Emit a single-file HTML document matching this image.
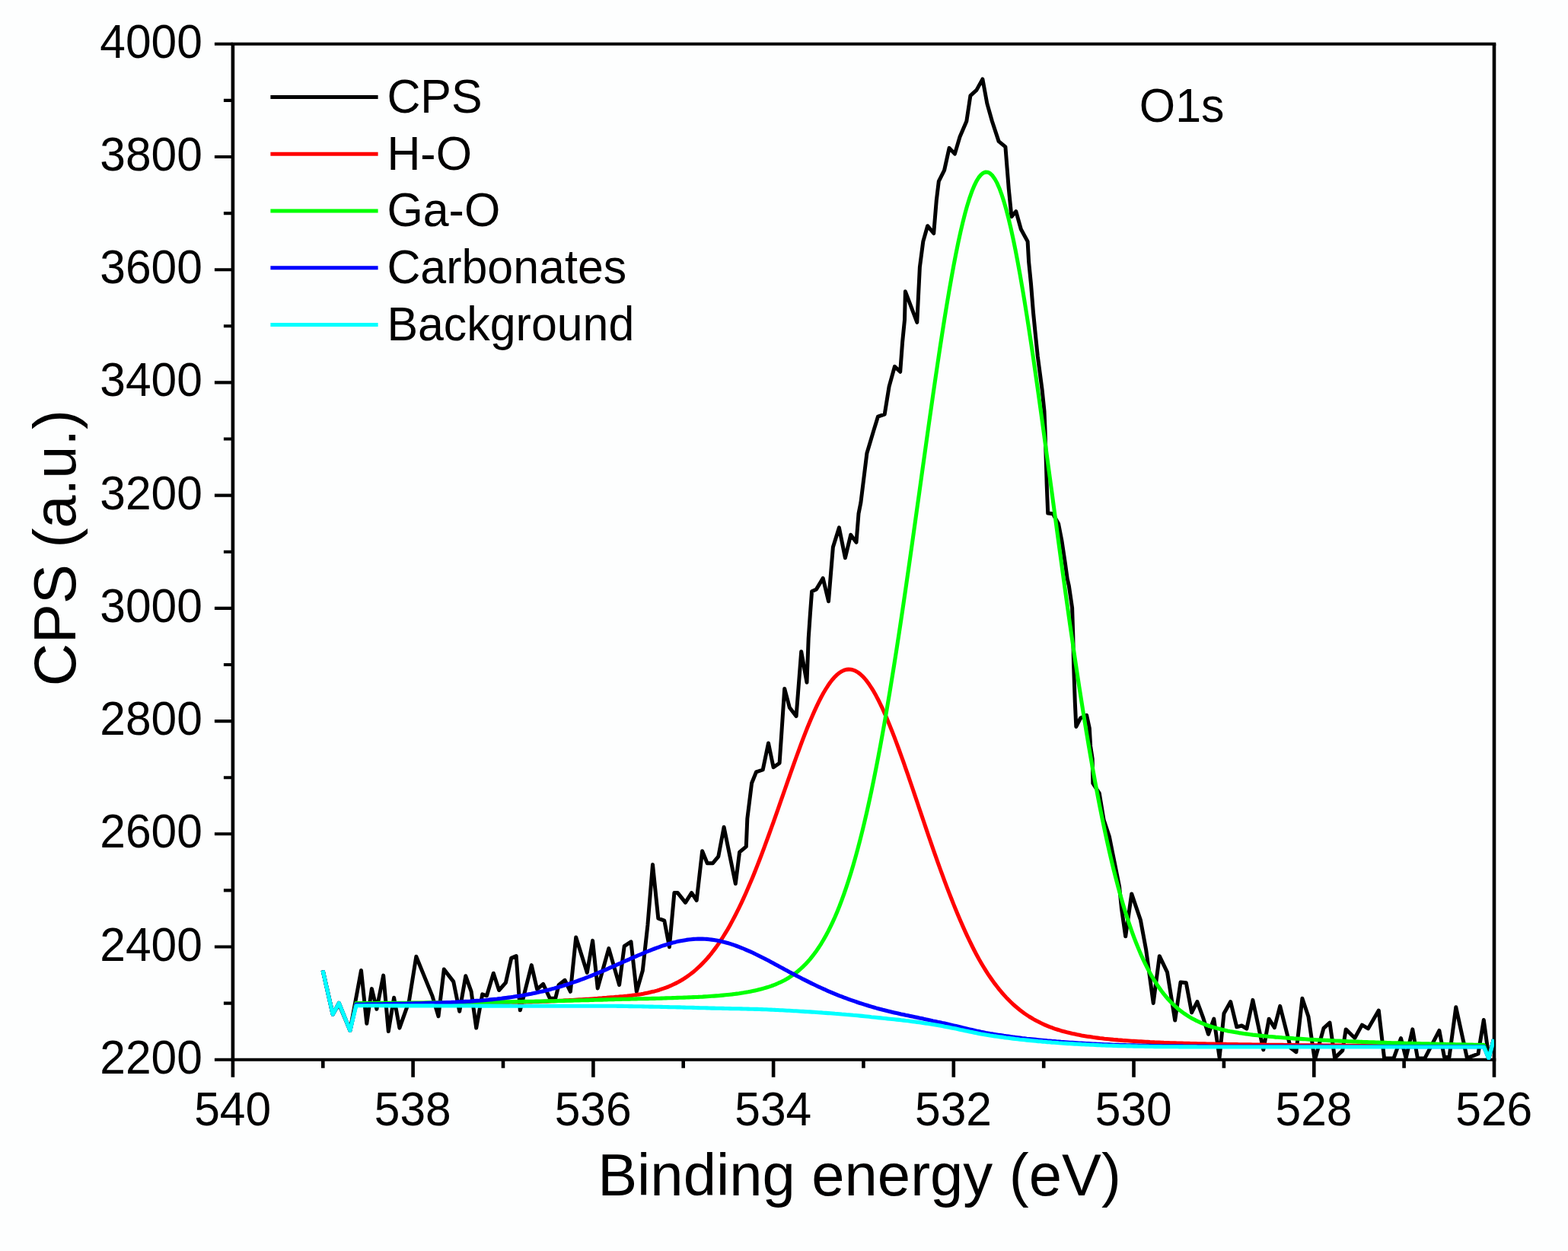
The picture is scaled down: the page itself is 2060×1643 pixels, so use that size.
<!DOCTYPE html>
<html lang="en">
<head>
<meta charset="utf-8">
<title>O1s XPS spectrum</title>
<style>
html,body{margin:0;padding:0;background:#fdfefe;}
body{width:2060px;height:1643px;overflow:hidden;}
svg{display:block;}
text{font-family:"Liberation Sans",Arial,Helvetica,sans-serif;fill:#000;}
.tick{font-size:61.2px;}
.title{font-size:77.8px;}
.ln{fill:none;stroke-linejoin:round;stroke-linecap:butt;}
</style>
</head>
<body>
<svg width="2060" height="1643" viewBox="0 0 2060 1643">
<rect x="0" y="0" width="2060" height="1643" fill="#fdfefe"/>
<defs><clipPath id="plot"><rect x="305.9" y="57.8" width="1657.1" height="1333.9"/></clipPath></defs>
<path d="M303.6 57.8H1965.3M303.6 1391.7H1965.3" fill="none" stroke="#000" stroke-width="4.1"/>
<path d="M305.9 57.8V1414.7M1963.0 57.8V1414.7" fill="none" stroke="#000" stroke-width="4.6"/>
<path d="M424.3 1391.7V1402.7M542.6 1391.7V1414.7M661.0 1391.7V1402.7M779.4 1391.7V1414.7M897.7 1391.7V1402.7M1016.1 1391.7V1414.7M1134.4 1391.7V1402.7M1252.8 1391.7V1414.7M1371.2 1391.7V1402.7M1489.5 1391.7V1414.7M1607.9 1391.7V1402.7M1726.3 1391.7V1414.7M1844.6 1391.7V1402.7" fill="none" stroke="#000" stroke-width="4.6"/>
<path d="M305.9 1391.7H281.9M305.9 1317.6H293.9M305.9 1243.5H281.9M305.9 1169.4H293.9M305.9 1095.3H281.9M305.9 1021.2H293.9M305.9 947.1H281.9M305.9 873.0H293.9M305.9 798.9H281.9M305.9 724.8H293.9M305.9 650.6H281.9M305.9 576.5H293.9M305.9 502.4H281.9M305.9 428.3H293.9M305.9 354.2H281.9M305.9 280.1H293.9M305.9 206.0H281.9M305.9 131.9H293.9M305.9 57.8H281.9" fill="none" stroke="#000" stroke-width="4.1"/>
<g clip-path="url(#plot)">
<polyline class="ln" stroke="#000" stroke-width="5.0" points="424.1,1274.5 437.2,1331.9 445.3,1318.9 459.9,1353.1 474.5,1274.5 481.8,1344.3 488.4,1298.6 494.9,1325.3 503.7,1281.1 510.3,1354.5 517.6,1310.3 524.9,1350.1 537.3,1315.4 546.8,1256.3 568.0,1308.1 576.0,1334.8 583.3,1273.1 595.7,1289.1 603.7,1328.2 611.8,1281.8 619.1,1302.2 625.7,1350.1 633.7,1305.9 639.5,1307.8 648.3,1278.2 655.6,1300.5 664.4,1290.6 671.7,1258.4 678.2,1255.5 683.3,1326.8 698.3,1267.6 705.6,1299.3 713.6,1292.4 722.4,1311.3 729.7,1311.3 734.0,1293.8 742.1,1287.3 749.4,1302.3 756.7,1231.0 771.3,1277.4 778.6,1235.4 785.2,1297.9 799.8,1245.6 813.6,1293.5 820.2,1242.7 829.0,1236.9 836.3,1302.3 844.3,1274.8 850.9,1214.9 857.5,1135.4 864.8,1206.2 872.8,1209.1 879.4,1243.8 885.9,1172.6 890.3,1172.6 900.5,1185.4 908.6,1172.6 915.2,1182.5 922.6,1117.7 929.2,1133.7 936.5,1133.7 943.8,1124.9 951.1,1086.3 966.3,1160.6 971.6,1119.1 980.3,1111.8 981.8,1075.3 987.6,1028.5 993.5,1013.9 1002.2,1011.0 1009.5,976.0 1016.1,1007.8 1024.1,1002.2 1027.1,958.4 1030.7,904.4 1037.3,929.2 1046.1,940.6 1052.7,855.8 1060.0,896.3 1062.2,838.2 1064.4,806.1 1066.6,776.8 1072.5,773.9 1081.2,759.4 1088.5,789.7 1094.4,718.4 1102.4,692.9 1110.4,732.7 1117.7,702.4 1125.0,712.3 1128.0,674.6 1130.9,660.0 1138.9,595.3 1147.6,566.1 1153.5,547.1 1162.2,544.1 1168.1,507.6 1175.4,481.4 1182.7,488.3 1185.6,449.2 1188.5,420.0 1189.4,382.8 1204.8,423.4 1208.4,350.7 1212.8,317.1 1218.6,296.7 1226.7,306.5 1230.3,263.0 1233.3,238.2 1240.6,223.6 1247.1,194.4 1254.4,202.1 1261.0,179.8 1269.8,159.3 1274.9,125.7 1282.9,118.4 1290.9,103.9 1296.8,135.9 1303.4,159.3 1312.1,185.6 1320.9,192.9 1323.1,220.7 1325.3,248.4 1328.9,284.6 1334.8,277.7 1341.3,301.0 1350.1,317.1 1351.6,343.8 1354.5,373.0 1357.4,409.5 1360.3,438.8 1363.3,468.0 1366.2,489.9 1369.1,511.8 1372.0,540.0 1373.0,563.8 1373.9,593.0 1375.2,636.8 1376.7,674.1 1383.3,674.8 1390.6,688.0 1394.9,709.9 1399.3,739.1 1402.2,760.0 1404.3,769.2 1408.6,798.4 1409.8,834.9 1410.5,871.5 1412.3,922.6 1413.8,954.4 1419.6,943.0 1427.6,939.4 1431.3,956.2 1432.7,980.0 1435.2,996.5 1435.8,1028.6 1444.3,1041.8 1450.1,1076.8 1457.4,1098.8 1461.8,1120.7 1466.2,1142.6 1470.6,1164.5 1473.5,1193.7 1478.7,1229.8 1486.7,1173.9 1498.4,1208.2 1505.7,1247.6 1515.2,1317.4 1523.3,1255.7 1533.5,1276.8 1543.7,1340.1 1551.0,1290.0 1558.3,1290.8 1565.6,1329.9 1572.9,1315.6 1580.2,1335.3 1587.5,1358.3 1594.8,1338.2 1602.1,1389.0 1608.0,1330.9 1616.7,1315.6 1624.8,1348.8 1631.3,1347.0 1637.9,1351.0 1645.9,1313.4 1659.8,1378.8 1667.1,1338.2 1674.4,1349.6 1681.7,1321.4 1695.6,1376.2 1702.9,1381.7 1710.9,1311.2 1719.0,1335.3 1727.3,1392.5 1739.0,1350.4 1747.0,1343.2 1753.6,1389.6 1763.8,1379.6 1768.2,1351.9 1779.9,1363.3 1789.4,1346.1 1797.4,1350.9 1811.3,1327.1 1818.6,1389.9 1831.0,1389.9 1840.5,1363.6 1847.1,1389.6 1855.8,1351.9 1862.4,1389.9 1871.9,1389.9 1890.9,1353.4 1897.5,1388.4 1904.0,1388.4 1912.8,1322.7 1927.4,1389.6 1942.0,1384.0 1949.3,1339.5 1955.9,1388.1 1962.5,1365.0"/>
<polyline class="ln" stroke="#ff0000" stroke-width="5.1" points="424.1,1274.5 437.2,1332.2 445.3,1317.4 459.9,1353.4 467.9,1317.8 469.9,1317.8 472.9,1317.8 475.9,1317.7 478.9,1317.7 481.9,1317.7 484.9,1317.7 487.9,1317.7 490.9,1317.7 493.9,1317.7 496.9,1317.7 499.9,1317.6 502.9,1317.6 505.9,1317.6 508.9,1317.6 511.9,1317.6 514.9,1317.6 517.9,1317.6 520.9,1317.5 523.9,1317.5 526.9,1317.5 529.9,1317.5 532.9,1317.5 535.9,1317.5 538.9,1317.4 541.9,1317.4 544.9,1317.4 547.9,1317.4 550.9,1317.4 553.9,1317.4 556.9,1317.3 559.9,1317.3 562.9,1317.3 565.9,1317.3 568.9,1317.3 571.9,1317.2 574.9,1317.2 577.9,1317.2 580.9,1317.2 583.9,1317.2 586.9,1317.1 589.9,1317.1 592.9,1317.1 595.9,1317.1 598.9,1317.0 601.9,1317.0 604.9,1317.0 607.9,1317.0 610.9,1316.9 613.9,1316.9 616.9,1316.9 619.9,1316.9 622.9,1316.8 625.9,1316.8 628.9,1316.8 631.9,1316.8 634.9,1316.7 637.9,1316.7 640.9,1316.7 643.9,1316.6 646.9,1316.6 649.9,1316.6 652.9,1316.5 655.9,1316.5 658.9,1316.5 661.9,1316.4 664.9,1316.4 667.9,1316.4 670.9,1316.3 673.9,1316.3 676.9,1316.2 679.9,1316.2 682.9,1316.2 685.9,1316.1 688.9,1316.1 691.9,1316.0 694.9,1316.0 697.9,1315.9 700.9,1315.8 703.9,1315.7 706.9,1315.6 709.9,1315.5 712.9,1315.3 715.9,1315.2 718.9,1315.1 721.9,1314.9 724.9,1314.8 727.9,1314.7 730.9,1314.5 733.9,1314.4 736.9,1314.2 739.9,1314.1 742.9,1313.9 745.9,1313.8 748.9,1313.6 751.9,1313.5 754.9,1313.3 757.9,1313.1 760.9,1312.9 763.9,1312.8 766.9,1312.6 769.9,1312.4 772.9,1312.2 775.9,1312.0 778.9,1311.8 781.9,1311.6 784.9,1311.4 787.9,1311.1 790.9,1310.9 793.9,1310.6 796.9,1310.4 799.9,1310.1 802.9,1309.9 805.9,1309.7 808.9,1309.4 811.9,1309.2 814.9,1308.9 817.9,1308.7 820.9,1308.4 823.9,1308.1 826.9,1307.7 829.9,1307.4 832.9,1307.0 835.9,1306.6 838.9,1306.1 841.9,1305.7 844.9,1305.2 847.9,1304.6 850.9,1304.0 853.9,1303.3 856.9,1302.6 859.9,1301.9 862.9,1301.1 865.9,1300.2 868.9,1299.2 871.9,1298.2 874.9,1297.1 877.9,1296.0 880.9,1294.7 883.9,1293.3 886.9,1291.9 889.9,1290.4 892.9,1288.7 895.9,1287.0 898.9,1285.1 901.9,1283.1 904.9,1281.0 907.9,1278.8 910.9,1276.4 913.9,1273.9 916.9,1271.2 919.9,1268.4 922.9,1265.4 925.9,1262.3 928.9,1259.0 931.9,1255.5 934.9,1251.8 937.9,1247.9 940.9,1243.9 943.9,1239.6 946.9,1235.2 949.9,1230.5 952.9,1225.7 955.9,1220.7 958.9,1215.4 961.9,1209.9 964.9,1204.3 967.9,1198.4 970.9,1192.4 973.9,1186.1 976.9,1179.6 979.9,1173.0 982.9,1166.1 985.9,1159.1 988.9,1151.9 991.9,1144.5 994.9,1136.9 997.9,1129.2 1000.9,1121.3 1003.9,1113.4 1006.9,1105.2 1009.9,1097.0 1012.9,1088.7 1015.9,1080.3 1018.9,1071.8 1021.9,1063.3 1024.9,1054.7 1027.9,1046.1 1030.9,1037.5 1033.9,1028.9 1036.9,1020.3 1039.9,1011.8 1042.9,1003.4 1045.9,995.0 1048.9,986.8 1051.9,978.7 1054.9,970.7 1057.9,962.9 1060.9,955.3 1063.9,948.0 1066.9,940.9 1069.9,934.1 1072.9,927.6 1075.9,921.4 1078.9,915.5 1081.9,910.0 1084.9,905.0 1087.9,900.3 1090.9,896.0 1093.9,892.2 1096.9,888.8 1099.9,885.9 1102.9,883.6 1105.9,881.7 1108.9,880.3 1111.9,879.4 1114.9,879.1 1117.9,879.3 1120.9,880.0 1123.9,881.2 1126.9,882.9 1129.9,885.1 1132.9,887.8 1135.9,891.0 1138.9,894.7 1141.9,898.8 1144.9,903.3 1147.9,908.2 1150.9,913.6 1153.9,919.3 1156.9,925.3 1159.9,931.7 1162.9,938.4 1165.9,945.4 1168.9,952.7 1171.9,960.2 1174.9,967.9 1177.9,975.9 1180.9,984.0 1183.9,992.3 1186.9,1000.7 1189.9,1009.3 1192.9,1017.9 1195.9,1026.7 1198.9,1035.5 1201.9,1044.4 1204.9,1053.3 1207.9,1062.2 1210.9,1071.1 1213.9,1080.0 1216.9,1088.9 1219.9,1097.7 1222.9,1106.4 1225.9,1115.1 1228.9,1123.7 1231.9,1132.1 1234.9,1140.5 1237.9,1148.7 1240.9,1156.8 1243.9,1164.8 1246.9,1172.6 1249.9,1180.3 1252.9,1187.9 1255.9,1195.3 1258.9,1202.5 1261.9,1209.6 1264.9,1216.4 1267.9,1223.1 1270.9,1229.6 1273.9,1235.9 1276.9,1242.0 1279.9,1248.0 1282.9,1253.7 1285.9,1259.2 1288.9,1264.4 1291.9,1269.5 1294.9,1274.4 1297.9,1279.1 1300.9,1283.5 1303.9,1287.8 1306.9,1291.9 1309.9,1295.8 1312.9,1299.6 1315.9,1303.2 1318.9,1306.6 1321.9,1309.9 1324.9,1313.0 1327.9,1316.0 1330.9,1318.8 1333.9,1321.5 1336.9,1324.0 1339.9,1326.5 1342.9,1328.8 1345.9,1331.0 1348.9,1333.0 1351.9,1335.0 1354.9,1336.8 1357.9,1338.6 1360.9,1340.3 1363.9,1341.8 1366.9,1343.3 1369.9,1344.7 1372.9,1346.1 1375.9,1347.4 1378.9,1348.6 1381.9,1349.7 1384.9,1350.8 1387.9,1351.8 1390.9,1352.7 1393.9,1353.7 1396.9,1354.5 1399.9,1355.3 1402.9,1356.1 1405.9,1356.8 1408.9,1357.5 1411.9,1358.1 1414.9,1358.8 1417.9,1359.3 1420.9,1359.9 1423.9,1360.4 1426.9,1360.9 1429.9,1361.4 1432.9,1361.8 1435.9,1362.3 1438.9,1362.7 1441.9,1363.1 1444.9,1363.5 1447.9,1363.8 1450.9,1364.2 1453.9,1364.5 1456.9,1364.8 1459.9,1365.1 1462.9,1365.4 1465.9,1365.6 1468.9,1365.9 1471.9,1366.1 1474.9,1366.4 1477.9,1366.6 1480.9,1366.8 1483.9,1367.0 1486.9,1367.2 1489.9,1367.4 1492.9,1367.6 1495.9,1367.8 1498.9,1367.9 1501.9,1368.1 1504.9,1368.3 1507.9,1368.4 1510.9,1368.6 1513.9,1368.7 1516.9,1368.9 1519.9,1369.0 1522.9,1369.1 1525.9,1369.2 1528.9,1369.4 1531.9,1369.5 1534.9,1369.6 1537.9,1369.7 1540.9,1369.8 1543.9,1369.9 1546.9,1370.0 1549.9,1370.1 1552.9,1370.1 1555.9,1370.2 1558.9,1370.3 1561.9,1370.4 1564.9,1370.5 1567.9,1370.6 1570.9,1370.6 1573.9,1370.7 1576.9,1370.8 1579.9,1370.8 1582.9,1370.9 1585.9,1371.0 1588.9,1371.0 1591.9,1371.1 1594.9,1371.1 1597.9,1371.2 1600.9,1371.3 1603.9,1371.3 1606.9,1371.4 1609.9,1371.4 1612.9,1371.5 1615.9,1371.5 1618.9,1371.6 1621.9,1371.6 1624.9,1371.6 1627.9,1371.7 1630.9,1371.7 1633.9,1371.8 1636.9,1371.8 1639.9,1371.9 1642.9,1371.9 1645.9,1372.0 1648.9,1372.0 1651.9,1372.0 1654.9,1372.1 1657.9,1372.1 1660.9,1372.1 1663.9,1372.2 1666.9,1372.2 1669.9,1372.3 1672.9,1372.3 1675.9,1372.3 1678.9,1372.4 1681.9,1372.4 1684.9,1372.4 1687.9,1372.5 1690.9,1372.5 1693.9,1372.5 1696.9,1372.6 1699.9,1372.6 1702.9,1372.6 1705.9,1372.7 1708.9,1372.7 1711.9,1372.7 1714.9,1372.7 1717.9,1372.8 1720.9,1372.8 1723.9,1372.8 1726.9,1372.9 1729.9,1372.9 1732.9,1372.9 1735.9,1372.9 1738.9,1373.0 1741.9,1373.0 1744.9,1373.0 1747.9,1373.0 1750.9,1373.1 1753.9,1373.1 1756.9,1373.1 1759.9,1373.1 1762.9,1373.1 1765.9,1373.2 1768.9,1373.2 1771.9,1373.2 1774.9,1373.2 1777.9,1373.3 1780.9,1373.3 1783.9,1373.3 1786.9,1373.3 1789.9,1373.3 1792.9,1373.4 1795.9,1373.4 1798.9,1373.4 1801.9,1373.4 1804.9,1373.4 1807.9,1373.5 1810.9,1373.5 1813.9,1373.5 1816.9,1373.5 1819.9,1373.5 1822.9,1373.6 1825.9,1373.6 1828.9,1373.6 1831.9,1373.6 1834.9,1373.6 1837.9,1373.6 1840.9,1373.7 1843.9,1373.7 1846.9,1373.7 1849.9,1373.7 1852.9,1373.7 1855.9,1373.7 1858.9,1373.8 1861.9,1373.8 1864.9,1373.8 1867.9,1373.8 1870.9,1373.8 1873.9,1373.8 1876.9,1373.8 1879.9,1373.9 1882.9,1373.9 1885.9,1373.9 1888.9,1373.9 1891.9,1373.9 1894.9,1373.9 1897.9,1373.9 1900.9,1374.0 1903.9,1374.0 1906.9,1374.0 1909.9,1374.0 1912.9,1374.0 1915.9,1374.0 1918.9,1374.0 1921.9,1374.0 1924.9,1374.1 1927.9,1374.1 1930.9,1374.1 1933.9,1374.1 1936.9,1374.1 1939.9,1374.1 1942.9,1374.1 1945.9,1374.1 1949.3,1374.1 1955.9,1389.9 1962.5,1365.0"/>
<polyline class="ln" stroke="#00ff00" stroke-width="5.1" points="424.1,1274.5 437.2,1332.2 445.3,1317.4 459.9,1353.4 467.9,1317.6 469.9,1317.6 472.9,1317.6 475.9,1317.6 478.9,1317.6 481.9,1317.5 484.9,1317.5 487.9,1317.5 490.9,1317.5 493.9,1317.5 496.9,1317.4 499.9,1317.4 502.9,1317.4 505.9,1317.4 508.9,1317.4 511.9,1317.3 514.9,1317.3 517.9,1317.3 520.9,1317.3 523.9,1317.2 526.9,1317.2 529.9,1317.2 532.9,1317.2 535.9,1317.2 538.9,1317.1 541.9,1317.1 544.9,1317.1 547.9,1317.1 550.9,1317.0 553.9,1317.0 556.9,1317.0 559.9,1316.9 562.9,1316.9 565.9,1316.9 568.9,1316.9 571.9,1316.8 574.9,1316.8 577.9,1316.8 580.9,1316.8 583.9,1316.7 586.9,1316.7 589.9,1316.7 592.9,1316.6 595.9,1316.6 598.9,1316.6 601.9,1316.5 604.9,1316.5 607.9,1316.5 610.9,1316.4 613.9,1316.4 616.9,1316.4 619.9,1316.3 622.9,1316.3 625.9,1316.3 628.9,1316.2 631.9,1316.2 634.9,1316.2 637.9,1316.1 640.9,1316.1 643.9,1316.1 646.9,1316.0 649.9,1316.0 652.9,1315.9 655.9,1315.9 658.9,1315.9 661.9,1315.8 664.9,1315.8 667.9,1315.7 670.9,1315.7 673.9,1315.6 676.9,1315.6 679.9,1315.5 682.9,1315.5 685.9,1315.5 688.9,1315.4 691.9,1315.4 694.9,1315.3 697.9,1315.2 700.9,1315.2 703.9,1315.1 706.9,1315.1 709.9,1315.0 712.9,1315.0 715.9,1314.9 718.9,1314.8 721.9,1314.8 724.9,1314.7 727.9,1314.7 730.9,1314.6 733.9,1314.5 736.9,1314.5 739.9,1314.4 742.9,1314.3 745.9,1314.3 748.9,1314.2 751.9,1314.1 754.9,1314.0 757.9,1314.0 760.9,1313.9 763.9,1313.8 766.9,1313.7 769.9,1313.6 772.9,1313.6 775.9,1313.5 778.9,1313.4 781.9,1313.3 784.9,1313.2 787.9,1313.1 790.9,1313.1 793.9,1313.0 796.9,1312.9 799.9,1312.8 802.9,1312.7 805.9,1312.6 808.9,1312.5 811.9,1312.5 814.9,1312.4 817.9,1312.3 820.9,1312.2 823.9,1312.2 826.9,1312.1 829.9,1312.0 832.9,1312.0 835.9,1311.9 838.9,1311.8 841.9,1311.8 844.9,1311.7 847.9,1311.6 850.9,1311.6 853.9,1311.5 856.9,1311.4 859.9,1311.4 862.9,1311.3 865.9,1311.2 868.9,1311.1 871.9,1311.0 874.9,1310.9 877.9,1310.8 880.9,1310.7 883.9,1310.6 886.9,1310.5 889.9,1310.4 892.9,1310.3 895.9,1310.2 898.9,1310.1 901.9,1310.0 904.9,1309.9 907.9,1309.8 910.9,1309.6 913.9,1309.5 916.9,1309.4 919.9,1309.2 922.9,1309.1 925.9,1308.9 928.9,1308.7 931.9,1308.5 934.9,1308.3 937.9,1308.1 940.9,1307.9 943.9,1307.7 946.9,1307.4 949.9,1307.1 952.9,1306.8 955.9,1306.5 958.9,1306.2 961.9,1305.9 964.9,1305.5 967.9,1305.1 970.9,1304.7 973.9,1304.2 976.9,1303.8 979.9,1303.3 982.9,1302.8 985.9,1302.2 988.9,1301.6 991.9,1300.9 994.9,1300.3 997.9,1299.5 1000.9,1298.8 1003.9,1297.9 1006.9,1297.0 1009.9,1296.1 1012.9,1295.1 1015.9,1294.0 1018.9,1292.8 1021.9,1291.5 1024.9,1290.2 1027.9,1288.7 1030.9,1287.2 1033.9,1285.5 1036.9,1283.7 1039.9,1281.7 1042.9,1279.7 1045.9,1277.4 1048.9,1275.0 1051.9,1272.4 1054.9,1269.6 1057.9,1266.7 1060.9,1263.5 1063.9,1260.1 1066.9,1256.4 1069.9,1252.5 1072.9,1248.4 1075.9,1244.0 1078.9,1239.3 1081.9,1234.3 1084.9,1229.0 1087.9,1223.4 1090.9,1217.4 1093.9,1211.1 1096.9,1204.5 1099.9,1197.4 1102.9,1190.0 1105.9,1182.1 1108.9,1173.8 1111.9,1165.2 1114.9,1156.0 1117.9,1146.4 1120.9,1136.4 1123.9,1125.9 1126.9,1114.9 1129.9,1103.4 1132.9,1091.5 1135.9,1079.0 1138.9,1066.1 1141.9,1052.6 1144.9,1038.7 1147.9,1024.2 1150.9,1009.2 1153.9,993.8 1156.9,977.8 1159.9,961.3 1162.9,944.4 1165.9,926.9 1168.9,909.1 1171.9,890.7 1174.9,872.0 1177.9,852.9 1180.9,833.4 1183.9,813.5 1186.9,793.3 1189.9,772.8 1192.9,752.1 1195.9,731.1 1198.9,710.0 1201.9,688.7 1204.9,667.2 1207.9,645.8 1210.9,624.2 1213.9,602.8 1216.9,581.3 1219.9,560.0 1222.9,538.9 1225.9,518.0 1228.9,497.3 1231.9,477.0 1234.9,457.0 1237.9,437.5 1240.9,418.5 1243.9,400.1 1246.9,382.3 1249.9,365.2 1252.9,348.8 1255.9,333.3 1258.9,318.6 1261.9,304.8 1264.9,292.0 1267.9,280.2 1270.9,269.4 1273.9,259.8 1276.9,251.3 1279.9,244.0 1282.9,237.9 1285.9,233.0 1288.9,229.4 1291.9,227.1 1294.9,226.0 1297.9,226.2 1300.9,227.8 1303.9,230.7 1306.9,234.9 1309.9,240.4 1312.9,247.2 1315.9,255.3 1318.9,264.6 1321.9,275.0 1324.9,286.6 1327.9,299.2 1330.9,312.9 1333.9,327.6 1336.9,343.2 1339.9,359.6 1342.9,376.9 1345.9,394.9 1348.9,413.6 1351.9,432.8 1354.9,452.7 1357.9,473.0 1360.9,493.8 1363.9,515.0 1366.9,536.4 1369.9,558.2 1372.9,580.1 1375.9,602.3 1378.9,624.5 1381.9,646.7 1384.9,669.0 1387.9,691.2 1390.9,713.3 1393.9,735.3 1396.9,757.2 1399.9,778.8 1402.9,800.2 1405.9,821.3 1408.9,842.0 1411.9,862.5 1414.9,882.6 1417.9,902.3 1420.9,921.5 1423.9,940.4 1426.9,958.8 1429.9,976.8 1432.9,994.2 1435.9,1011.2 1438.9,1027.7 1441.9,1043.7 1444.9,1059.2 1447.9,1074.2 1450.9,1088.6 1453.9,1102.5 1456.9,1116.0 1459.9,1128.9 1462.9,1141.3 1465.9,1153.2 1468.9,1164.6 1471.9,1175.5 1474.9,1185.9 1477.9,1195.9 1480.9,1205.4 1483.9,1214.4 1486.9,1223.1 1489.9,1231.3 1492.9,1239.0 1495.9,1246.4 1498.9,1253.4 1501.9,1260.1 1504.9,1266.4 1507.9,1272.3 1510.9,1277.9 1513.9,1283.2 1516.9,1288.2 1519.9,1292.9 1522.9,1297.3 1525.9,1301.5 1528.9,1305.4 1531.9,1309.0 1534.9,1312.5 1537.9,1315.7 1540.9,1318.7 1543.9,1321.5 1546.9,1324.2 1549.9,1326.7 1552.9,1329.0 1555.9,1331.2 1558.9,1333.2 1561.9,1335.1 1564.9,1336.9 1567.9,1338.5 1570.9,1340.1 1573.9,1341.5 1576.9,1342.9 1579.9,1344.2 1582.9,1345.4 1585.9,1346.5 1588.9,1347.5 1591.9,1348.5 1594.9,1349.4 1597.9,1350.3 1600.9,1351.1 1603.9,1351.8 1606.9,1352.6 1609.9,1353.2 1612.9,1353.9 1615.9,1354.5 1618.9,1355.0 1621.9,1355.6 1624.9,1356.1 1627.9,1356.6 1630.9,1357.0 1633.9,1357.5 1636.9,1357.9 1639.9,1358.3 1642.9,1358.7 1645.9,1359.1 1648.9,1359.4 1651.9,1359.7 1654.9,1360.1 1657.9,1360.4 1660.9,1360.7 1663.9,1361.0 1666.9,1361.3 1669.9,1361.5 1672.9,1361.8 1675.9,1362.1 1678.9,1362.3 1681.9,1362.5 1684.9,1362.8 1687.9,1363.0 1690.9,1363.2 1693.9,1363.4 1696.9,1363.6 1699.9,1363.9 1702.9,1364.1 1705.9,1364.3 1708.9,1364.4 1711.9,1364.6 1714.9,1364.8 1717.9,1365.0 1720.9,1365.2 1723.9,1365.3 1726.9,1365.5 1729.9,1365.7 1732.9,1365.8 1735.9,1366.0 1738.9,1366.1 1741.9,1366.3 1744.9,1366.4 1747.9,1366.6 1750.9,1366.7 1753.9,1366.9 1756.9,1367.0 1759.9,1367.1 1762.9,1367.3 1765.9,1367.4 1768.9,1367.5 1771.9,1367.7 1774.9,1367.8 1777.9,1367.9 1780.9,1368.0 1783.9,1368.1 1786.9,1368.2 1789.9,1368.4 1792.9,1368.5 1795.9,1368.6 1798.9,1368.7 1801.9,1368.8 1804.9,1368.9 1807.9,1369.0 1810.9,1369.1 1813.9,1369.2 1816.9,1369.3 1819.9,1369.4 1822.9,1369.5 1825.9,1369.6 1828.9,1369.7 1831.9,1369.8 1834.9,1369.8 1837.9,1369.9 1840.9,1370.0 1843.9,1370.1 1846.9,1370.2 1849.9,1370.3 1852.9,1370.3 1855.9,1370.4 1858.9,1370.5 1861.9,1370.6 1864.9,1370.6 1867.9,1370.7 1870.9,1370.8 1873.9,1370.9 1876.9,1370.9 1879.9,1371.0 1882.9,1371.1 1885.9,1371.1 1888.9,1371.2 1891.9,1371.3 1894.9,1371.3 1897.9,1371.4 1900.9,1371.5 1903.9,1371.5 1906.9,1371.6 1909.9,1371.6 1912.9,1371.7 1915.9,1371.8 1918.9,1371.8 1921.9,1371.9 1924.9,1371.9 1927.9,1372.0 1930.9,1372.0 1933.9,1372.1 1936.9,1372.2 1939.9,1372.2 1942.9,1372.3 1945.9,1372.3 1949.3,1372.3 1955.9,1389.9 1962.5,1365.0"/>
<polyline class="ln" stroke="#0000ff" stroke-width="5.1" points="424.1,1274.5 437.2,1332.2 445.3,1317.4 459.9,1353.4 467.9,1319.1 469.9,1319.1 472.9,1319.0 475.9,1319.0 478.9,1319.0 481.9,1318.9 484.9,1318.9 487.9,1318.9 490.9,1318.8 493.9,1318.8 496.9,1318.7 499.9,1318.7 502.9,1318.7 505.9,1318.6 508.9,1318.6 511.9,1318.5 514.9,1318.5 517.9,1318.4 520.9,1318.4 523.9,1318.3 526.9,1318.3 529.9,1318.2 532.9,1318.2 535.9,1318.1 538.9,1318.0 541.9,1318.0 544.9,1317.9 547.9,1317.8 550.9,1317.8 553.9,1317.7 556.9,1317.6 559.9,1317.5 562.9,1317.4 565.9,1317.4 568.9,1317.3 571.9,1317.2 574.9,1317.1 577.9,1317.0 580.9,1316.8 583.9,1316.7 586.9,1316.6 589.9,1316.5 592.9,1316.4 595.9,1316.2 598.9,1316.1 601.9,1315.9 604.9,1315.8 607.9,1315.6 610.9,1315.4 613.9,1315.2 616.9,1315.1 619.9,1314.9 622.9,1314.6 625.9,1314.4 628.9,1314.2 631.9,1314.0 634.9,1313.7 637.9,1313.5 640.9,1313.2 643.9,1312.9 646.9,1312.6 649.9,1312.3 652.9,1312.0 655.9,1311.6 658.9,1311.3 661.9,1310.9 664.9,1310.5 667.9,1310.1 670.9,1309.7 673.9,1309.3 676.9,1308.8 679.9,1308.4 682.9,1307.9 685.9,1307.4 688.9,1306.9 691.9,1306.3 694.9,1305.7 697.9,1305.2 700.9,1304.6 703.9,1303.9 706.9,1303.3 709.9,1302.6 712.9,1301.9 715.9,1301.2 718.9,1300.4 721.9,1299.7 724.9,1298.9 727.9,1298.1 730.9,1297.2 733.9,1296.4 736.9,1295.5 739.9,1294.6 742.9,1293.6 745.9,1292.7 748.9,1291.7 751.9,1290.7 754.9,1289.7 757.9,1288.6 760.9,1287.5 763.9,1286.4 766.9,1285.3 769.9,1284.2 772.9,1283.0 775.9,1281.8 778.9,1280.6 781.9,1279.4 784.9,1278.2 787.9,1276.9 790.9,1275.6 793.9,1274.4 796.9,1273.1 799.9,1271.7 802.9,1270.4 805.9,1269.1 808.9,1267.8 811.9,1266.4 814.9,1265.1 817.9,1263.7 820.9,1262.4 823.9,1261.1 826.9,1259.8 829.9,1258.4 832.9,1257.1 835.9,1255.8 838.9,1254.5 841.9,1253.3 844.9,1252.0 847.9,1250.7 850.9,1249.5 853.9,1248.3 856.9,1247.1 859.9,1246.0 862.9,1244.9 865.9,1243.8 868.9,1242.7 871.9,1241.7 874.9,1240.8 877.9,1239.8 880.9,1239.0 883.9,1238.1 886.9,1237.4 889.9,1236.6 892.9,1236.0 895.9,1235.4 898.9,1234.9 901.9,1234.4 904.9,1234.0 907.9,1233.7 910.9,1233.4 913.9,1233.3 916.9,1233.1 919.9,1233.1 922.9,1233.1 925.9,1233.3 928.9,1233.4 931.9,1233.7 934.9,1234.1 937.9,1234.5 940.9,1235.0 943.9,1235.5 946.9,1236.2 949.9,1236.9 952.9,1237.7 955.9,1238.5 958.9,1239.4 961.9,1240.4 964.9,1241.4 967.9,1242.5 970.9,1243.6 973.9,1244.8 976.9,1246.0 979.9,1247.3 982.9,1248.6 985.9,1249.9 988.9,1251.3 991.9,1252.8 994.9,1254.2 997.9,1255.7 1000.9,1257.2 1003.9,1258.7 1006.9,1260.3 1009.9,1261.8 1012.9,1263.4 1015.9,1265.0 1018.9,1266.7 1021.9,1268.3 1024.9,1269.9 1027.9,1271.5 1030.9,1273.2 1033.9,1274.8 1036.9,1276.4 1039.9,1278.0 1042.9,1279.6 1045.9,1281.2 1048.9,1282.8 1051.9,1284.3 1054.9,1285.9 1057.9,1287.4 1060.9,1288.9 1063.9,1290.4 1066.9,1291.9 1069.9,1293.3 1072.9,1294.7 1075.9,1296.2 1078.9,1297.5 1081.9,1298.9 1084.9,1300.2 1087.9,1301.6 1090.9,1302.8 1093.9,1304.1 1096.9,1305.4 1099.9,1306.6 1102.9,1307.8 1105.9,1308.9 1108.9,1310.1 1111.9,1311.2 1114.9,1312.3 1117.9,1313.4 1120.9,1314.4 1123.9,1315.4 1126.9,1316.5 1129.9,1317.5 1132.9,1318.4 1135.9,1319.4 1138.9,1320.3 1141.9,1321.2 1144.9,1322.1 1147.9,1323.0 1150.9,1323.9 1153.9,1324.7 1156.9,1325.5 1159.9,1326.3 1162.9,1327.0 1165.9,1327.8 1168.9,1328.5 1171.9,1329.2 1174.9,1329.9 1177.9,1330.6 1180.9,1331.2 1183.9,1331.9 1186.9,1332.5 1189.9,1333.2 1192.9,1333.8 1195.9,1334.4 1198.9,1335.1 1201.9,1335.7 1204.9,1336.3 1207.9,1337.0 1210.9,1337.6 1213.9,1338.3 1216.9,1338.9 1219.9,1339.6 1222.9,1340.2 1225.9,1340.9 1228.9,1341.5 1231.9,1342.2 1234.9,1342.8 1237.9,1343.5 1240.9,1344.1 1243.9,1344.8 1246.9,1345.5 1249.9,1346.2 1252.9,1346.9 1255.9,1347.6 1258.9,1348.3 1261.9,1349.0 1264.9,1349.8 1267.9,1350.5 1270.9,1351.2 1273.9,1351.9 1276.9,1352.6 1279.9,1353.3 1282.9,1354.0 1285.9,1354.6 1288.9,1355.3 1291.9,1355.8 1294.9,1356.4 1297.9,1356.9 1300.9,1357.5 1303.9,1357.9 1306.9,1358.4 1309.9,1358.9 1312.9,1359.4 1315.9,1359.8 1318.9,1360.3 1321.9,1360.7 1324.9,1361.1 1327.9,1361.6 1330.9,1362.0 1333.9,1362.4 1336.9,1362.7 1339.9,1363.1 1342.9,1363.5 1345.9,1363.8 1348.9,1364.2 1351.9,1364.5 1354.9,1364.8 1357.9,1365.1 1360.9,1365.4 1363.9,1365.7 1366.9,1366.0 1369.9,1366.3 1372.9,1366.6 1375.9,1366.9 1378.9,1367.1 1381.9,1367.4 1384.9,1367.6 1387.9,1367.9 1390.9,1368.1 1393.9,1368.4 1396.9,1368.6 1399.9,1368.8 1402.9,1369.0 1405.9,1369.2 1408.9,1369.4 1411.9,1369.6 1414.9,1369.8 1417.9,1370.0 1420.9,1370.1 1423.9,1370.3 1426.9,1370.5 1429.9,1370.6 1432.9,1370.8 1435.9,1371.0 1438.9,1371.1 1441.9,1371.3 1444.9,1371.4 1447.9,1371.5 1450.9,1371.7 1453.9,1371.8 1456.9,1371.9 1459.9,1372.0 1462.9,1372.2 1465.9,1372.3 1468.9,1372.4 1471.9,1372.5 1474.9,1372.5 1477.9,1372.6 1480.9,1372.7 1483.9,1372.8 1486.9,1372.9 1489.9,1372.9 1492.9,1373.0 1495.9,1373.1 1498.9,1373.2 1501.9,1373.2 1504.9,1373.3 1507.9,1373.4 1510.9,1373.4 1513.9,1373.5 1516.9,1373.5 1519.9,1373.6 1522.9,1373.6 1525.9,1373.7 1528.9,1373.7 1531.9,1373.8 1534.9,1373.8 1537.9,1373.8 1540.9,1373.8 1543.9,1373.9 1546.9,1373.9 1549.9,1373.9 1552.9,1373.9 1555.9,1374.0 1558.9,1374.0 1561.9,1374.0 1564.9,1374.0 1567.9,1374.0 1570.9,1374.1 1573.9,1374.1 1576.9,1374.1 1579.9,1374.1 1582.9,1374.1 1585.9,1374.1 1588.9,1374.2 1591.9,1374.2 1594.9,1374.2 1597.9,1374.2 1600.9,1374.2 1603.9,1374.2 1606.9,1374.2 1609.9,1374.2 1612.9,1374.2 1615.9,1374.2 1618.9,1374.2 1621.9,1374.2 1624.9,1374.2 1627.9,1374.3 1630.9,1374.3 1633.9,1374.3 1636.9,1374.3 1639.9,1374.3 1642.9,1374.3 1645.9,1374.3 1648.9,1374.3 1651.9,1374.3 1654.9,1374.3 1657.9,1374.3 1660.9,1374.3 1663.9,1374.3 1666.9,1374.3 1669.9,1374.3 1672.9,1374.3 1675.9,1374.3 1678.9,1374.3 1681.9,1374.4 1684.9,1374.4 1687.9,1374.4 1690.9,1374.4 1693.9,1374.4 1696.9,1374.4 1699.9,1374.4 1702.9,1374.4 1705.9,1374.4 1708.9,1374.4 1711.9,1374.4 1714.9,1374.4 1717.9,1374.4 1720.9,1374.4 1723.9,1374.4 1726.9,1374.4 1729.9,1374.4 1732.9,1374.4 1735.9,1374.4 1738.9,1374.4 1741.9,1374.4 1744.9,1374.4 1747.9,1374.5 1750.9,1374.5 1753.9,1374.5 1756.9,1374.5 1759.9,1374.5 1762.9,1374.5 1765.9,1374.5 1768.9,1374.5 1771.9,1374.5 1774.9,1374.5 1777.9,1374.5 1780.9,1374.5 1783.9,1374.5 1786.9,1374.5 1789.9,1374.5 1792.9,1374.5 1795.9,1374.5 1798.9,1374.5 1801.9,1374.5 1804.9,1374.5 1807.9,1374.5 1810.9,1374.5 1813.9,1374.5 1816.9,1374.5 1819.9,1374.5 1822.9,1374.5 1825.9,1374.5 1828.9,1374.5 1831.9,1374.5 1834.9,1374.5 1837.9,1374.6 1840.9,1374.6 1843.9,1374.6 1846.9,1374.6 1849.9,1374.6 1852.9,1374.6 1855.9,1374.6 1858.9,1374.6 1861.9,1374.6 1864.9,1374.6 1867.9,1374.6 1870.9,1374.6 1873.9,1374.6 1876.9,1374.6 1879.9,1374.6 1882.9,1374.6 1885.9,1374.6 1888.9,1374.6 1891.9,1374.6 1894.9,1374.6 1897.9,1374.6 1900.9,1374.6 1903.9,1374.6 1906.9,1374.6 1909.9,1374.6 1912.9,1374.6 1915.9,1374.6 1918.9,1374.6 1921.9,1374.6 1924.9,1374.6 1927.9,1374.6 1930.9,1374.6 1933.9,1374.6 1936.9,1374.6 1939.9,1374.6 1942.9,1374.6 1945.9,1374.6 1949.3,1374.6 1955.9,1389.9 1962.5,1365.0"/>
<polyline class="ln" stroke="#00ffff" stroke-width="5.1" points="424.1,1274.5 437.2,1332.2 445.3,1317.4 459.9,1353.4 467.9,1320.8 469.9,1320.8 472.9,1320.8 475.9,1320.8 478.9,1320.8 481.9,1320.8 484.9,1320.8 487.9,1320.8 490.9,1320.8 493.9,1320.8 496.9,1320.8 499.9,1320.8 502.9,1320.8 505.9,1320.9 508.9,1320.9 511.9,1320.9 514.9,1320.9 517.9,1320.9 520.9,1320.9 523.9,1320.9 526.9,1320.9 529.9,1320.9 532.9,1320.9 535.9,1320.9 538.9,1320.9 541.9,1320.9 544.9,1320.9 547.9,1320.9 550.9,1320.9 553.9,1320.9 556.9,1320.9 559.9,1320.9 562.9,1320.9 565.9,1320.9 568.9,1320.9 571.9,1321.0 574.9,1321.0 577.9,1321.0 580.9,1321.0 583.9,1321.0 586.9,1321.0 589.9,1321.0 592.9,1321.0 595.9,1321.0 598.9,1321.0 601.9,1321.0 604.9,1321.0 607.9,1321.0 610.9,1321.0 613.9,1321.0 616.9,1321.0 619.9,1321.0 622.9,1321.0 625.9,1321.1 628.9,1321.1 631.9,1321.1 634.9,1321.1 637.9,1321.1 640.9,1321.1 643.9,1321.1 646.9,1321.1 649.9,1321.1 652.9,1321.1 655.9,1321.1 658.9,1321.1 661.9,1321.1 664.9,1321.1 667.9,1321.1 670.9,1321.1 673.9,1321.2 676.9,1321.2 679.9,1321.2 682.9,1321.2 685.9,1321.2 688.9,1321.2 691.9,1321.2 694.9,1321.2 697.9,1321.2 700.9,1321.2 703.9,1321.2 706.9,1321.2 709.9,1321.2 712.9,1321.2 715.9,1321.2 718.9,1321.2 721.9,1321.2 724.9,1321.2 727.9,1321.2 730.9,1321.2 733.9,1321.2 736.9,1321.2 739.9,1321.2 742.9,1321.2 745.9,1321.2 748.9,1321.2 751.9,1321.2 754.9,1321.2 757.9,1321.2 760.9,1321.3 763.9,1321.3 766.9,1321.3 769.9,1321.3 772.9,1321.3 775.9,1321.3 778.9,1321.3 781.9,1321.3 784.9,1321.3 787.9,1321.3 790.9,1321.3 793.9,1321.3 796.9,1321.3 799.9,1321.3 802.9,1321.3 805.9,1321.3 808.9,1321.3 811.9,1321.4 814.9,1321.4 817.9,1321.4 820.9,1321.5 823.9,1321.5 826.9,1321.6 829.9,1321.6 832.9,1321.7 835.9,1321.7 838.9,1321.8 841.9,1321.8 844.9,1321.9 847.9,1322.0 850.9,1322.0 853.9,1322.1 856.9,1322.1 859.9,1322.2 862.9,1322.3 865.9,1322.3 868.9,1322.4 871.9,1322.5 874.9,1322.5 877.9,1322.6 880.9,1322.7 883.9,1322.7 886.9,1322.8 889.9,1322.9 892.9,1322.9 895.9,1323.0 898.9,1323.1 901.9,1323.2 904.9,1323.3 907.9,1323.3 910.9,1323.4 913.9,1323.5 916.9,1323.6 919.9,1323.7 922.9,1323.8 925.9,1323.8 928.9,1323.9 931.9,1324.0 934.9,1324.1 937.9,1324.1 940.9,1324.2 943.9,1324.3 946.9,1324.3 949.9,1324.4 952.9,1324.5 955.9,1324.5 958.9,1324.6 961.9,1324.7 964.9,1324.7 967.9,1324.8 970.9,1324.8 973.9,1324.9 976.9,1325.0 979.9,1325.0 982.9,1325.1 985.9,1325.2 988.9,1325.3 991.9,1325.4 994.9,1325.4 997.9,1325.5 1000.9,1325.6 1003.9,1325.7 1006.9,1325.8 1009.9,1326.0 1012.9,1326.1 1015.9,1326.2 1018.9,1326.4 1021.9,1326.5 1024.9,1326.7 1027.9,1326.8 1030.9,1327.0 1033.9,1327.2 1036.9,1327.3 1039.9,1327.5 1042.9,1327.7 1045.9,1327.8 1048.9,1328.0 1051.9,1328.2 1054.9,1328.4 1057.9,1328.6 1060.9,1328.8 1063.9,1328.9 1066.9,1329.1 1069.9,1329.3 1072.9,1329.5 1075.9,1329.7 1078.9,1329.9 1081.9,1330.2 1084.9,1330.4 1087.9,1330.6 1090.9,1330.8 1093.9,1331.0 1096.9,1331.3 1099.9,1331.5 1102.9,1331.7 1105.9,1332.0 1108.9,1332.2 1111.9,1332.5 1114.9,1332.7 1117.9,1333.0 1120.9,1333.3 1123.9,1333.5 1126.9,1333.8 1129.9,1334.1 1132.9,1334.4 1135.9,1334.7 1138.9,1335.0 1141.9,1335.3 1144.9,1335.7 1147.9,1336.0 1150.9,1336.3 1153.9,1336.6 1156.9,1336.9 1159.9,1337.2 1162.9,1337.5 1165.9,1337.9 1168.9,1338.2 1171.9,1338.5 1174.9,1338.8 1177.9,1339.1 1180.9,1339.4 1183.9,1339.8 1186.9,1340.1 1189.9,1340.5 1192.9,1340.8 1195.9,1341.2 1198.9,1341.6 1201.9,1342.0 1204.9,1342.4 1207.9,1342.8 1210.9,1343.2 1213.9,1343.7 1216.9,1344.1 1219.9,1344.6 1222.9,1345.1 1225.9,1345.6 1228.9,1346.1 1231.9,1346.6 1234.9,1347.1 1237.9,1347.6 1240.9,1348.2 1243.9,1348.7 1246.9,1349.3 1249.9,1349.9 1252.9,1350.5 1255.9,1351.1 1258.9,1351.7 1261.9,1352.4 1264.9,1353.0 1267.9,1353.7 1270.9,1354.3 1273.9,1355.0 1276.9,1355.6 1279.9,1356.2 1282.9,1356.8 1285.9,1357.4 1288.9,1358.0 1291.9,1358.5 1294.9,1359.0 1297.9,1359.5 1300.9,1360.0 1303.9,1360.4 1306.9,1360.9 1309.9,1361.3 1312.9,1361.7 1315.9,1362.1 1318.9,1362.6 1321.9,1363.0 1324.9,1363.3 1327.9,1363.7 1330.9,1364.1 1333.9,1364.5 1336.9,1364.8 1339.9,1365.2 1342.9,1365.5 1345.9,1365.8 1348.9,1366.1 1351.9,1366.4 1354.9,1366.7 1357.9,1367.0 1360.9,1367.3 1363.9,1367.6 1366.9,1367.8 1369.9,1368.1 1372.9,1368.3 1375.9,1368.6 1378.9,1368.8 1381.9,1369.1 1384.9,1369.3 1387.9,1369.5 1390.9,1369.8 1393.9,1370.0 1396.9,1370.2 1399.9,1370.4 1402.9,1370.6 1405.9,1370.8 1408.9,1370.9 1411.9,1371.1 1414.9,1371.3 1417.9,1371.4 1420.9,1371.6 1423.9,1371.7 1426.9,1371.9 1429.9,1372.0 1432.9,1372.2 1435.9,1372.3 1438.9,1372.5 1441.9,1372.6 1444.9,1372.7 1447.9,1372.9 1450.9,1373.0 1453.9,1373.1 1456.9,1373.2 1459.9,1373.3 1462.9,1373.4 1465.9,1373.5 1468.9,1373.6 1471.9,1373.7 1474.9,1373.7 1477.9,1373.8 1480.9,1373.9 1483.9,1373.9 1486.9,1374.0 1489.9,1374.1 1492.9,1374.1 1495.9,1374.2 1498.9,1374.3 1501.9,1374.3 1504.9,1374.4 1507.9,1374.4 1510.9,1374.5 1513.9,1374.5 1516.9,1374.6 1519.9,1374.6 1522.9,1374.6 1525.9,1374.7 1528.9,1374.7 1531.9,1374.7 1534.9,1374.8 1537.9,1374.8 1540.9,1374.8 1543.9,1374.8 1546.9,1374.8 1549.9,1374.9 1552.9,1374.9 1555.9,1374.9 1558.9,1374.9 1561.9,1374.9 1564.9,1374.9 1567.9,1374.9 1570.9,1374.9 1573.9,1375.0 1576.9,1375.0 1579.9,1375.0 1582.9,1375.0 1585.9,1375.0 1588.9,1375.0 1591.9,1375.0 1594.9,1375.0 1597.9,1375.0 1600.9,1375.0 1603.9,1375.0 1606.9,1375.0 1609.9,1375.0 1612.9,1375.0 1615.9,1375.0 1618.9,1375.0 1621.9,1375.0 1624.9,1375.0 1627.9,1375.0 1630.9,1375.0 1633.9,1375.0 1636.9,1375.0 1639.9,1375.0 1642.9,1375.0 1645.9,1375.0 1648.9,1375.0 1651.9,1375.0 1654.9,1375.0 1657.9,1375.0 1660.9,1375.0 1663.9,1375.0 1666.9,1375.0 1669.9,1375.0 1672.9,1375.0 1675.9,1375.0 1678.9,1375.0 1681.9,1375.0 1684.9,1375.0 1687.9,1375.0 1690.9,1375.0 1693.9,1375.0 1696.9,1375.0 1699.9,1375.0 1702.9,1375.0 1705.9,1375.0 1708.9,1375.0 1711.9,1375.0 1714.9,1375.0 1717.9,1375.0 1720.9,1375.0 1723.9,1375.0 1726.9,1375.0 1729.9,1375.0 1732.9,1375.0 1735.9,1375.0 1738.9,1375.0 1741.9,1375.0 1744.9,1375.0 1747.9,1375.0 1750.9,1375.0 1753.9,1375.0 1756.9,1375.0 1759.9,1375.0 1762.9,1375.0 1765.9,1375.0 1768.9,1375.0 1771.9,1375.0 1774.9,1375.0 1777.9,1375.0 1780.9,1375.0 1783.9,1375.0 1786.9,1375.0 1789.9,1375.0 1792.9,1375.0 1795.9,1375.0 1798.9,1375.0 1801.9,1375.0 1804.9,1375.0 1807.9,1375.0 1810.9,1375.0 1813.9,1375.0 1816.9,1375.0 1819.9,1375.0 1822.9,1375.0 1825.9,1375.0 1828.9,1375.0 1831.9,1375.0 1834.9,1375.0 1837.9,1375.0 1840.9,1375.0 1843.9,1375.0 1846.9,1375.0 1849.9,1375.0 1852.9,1375.0 1855.9,1375.0 1858.9,1375.0 1861.9,1375.0 1864.9,1375.0 1867.9,1375.0 1870.9,1375.0 1873.9,1375.0 1876.9,1375.0 1879.9,1375.0 1882.9,1375.0 1885.9,1375.0 1888.9,1375.0 1891.9,1375.0 1894.9,1375.0 1897.9,1375.0 1900.9,1375.0 1903.9,1375.0 1906.9,1375.0 1909.9,1375.0 1912.9,1375.0 1915.9,1375.0 1918.9,1375.0 1921.9,1375.0 1924.9,1375.0 1927.9,1375.0 1930.9,1375.0 1933.9,1375.0 1936.9,1375.0 1939.9,1375.0 1942.9,1375.0 1945.9,1375.0 1949.3,1375.0 1955.9,1389.9 1962.5,1365.0"/>
</g>
<text class="tick" transform="translate(305.6 1477.6) scale(0.988 1.024)" text-anchor="middle">540</text>
<text class="tick" transform="translate(542.3 1477.6) scale(0.988 1.024)" text-anchor="middle">538</text>
<text class="tick" transform="translate(779.1 1477.6) scale(0.988 1.024)" text-anchor="middle">536</text>
<text class="tick" transform="translate(1015.8 1477.6) scale(0.988 1.024)" text-anchor="middle">534</text>
<text class="tick" transform="translate(1252.5 1477.6) scale(0.988 1.024)" text-anchor="middle">532</text>
<text class="tick" transform="translate(1489.2 1477.6) scale(0.988 1.024)" text-anchor="middle">530</text>
<text class="tick" transform="translate(1726.0 1477.6) scale(0.988 1.024)" text-anchor="middle">528</text>
<text class="tick" transform="translate(1962.7 1477.6) scale(0.988 1.024)" text-anchor="middle">526</text>
<text class="tick" transform="translate(265.8 1409.7) scale(0.988 1.024)" text-anchor="end">2200</text>
<text class="tick" transform="translate(265.8 1261.5) scale(0.988 1.024)" text-anchor="end">2400</text>
<text class="tick" transform="translate(265.8 1113.3) scale(0.988 1.024)" text-anchor="end">2600</text>
<text class="tick" transform="translate(265.8 965.1) scale(0.988 1.024)" text-anchor="end">2800</text>
<text class="tick" transform="translate(265.8 816.9) scale(0.988 1.024)" text-anchor="end">3000</text>
<text class="tick" transform="translate(265.8 668.6) scale(0.988 1.024)" text-anchor="end">3200</text>
<text class="tick" transform="translate(265.8 520.4) scale(0.988 1.024)" text-anchor="end">3400</text>
<text class="tick" transform="translate(265.8 372.2) scale(0.988 1.024)" text-anchor="end">3600</text>
<text class="tick" transform="translate(265.8 224.0) scale(0.988 1.024)" text-anchor="end">3800</text>
<text class="tick" transform="translate(265.8 75.8) scale(0.988 1.024)" text-anchor="end">4000</text>
<text class="title" x="1129.0" y="1569.5" text-anchor="middle">Binding energy (eV)</text>
<text class="title" transform="translate(99.3 719.6) rotate(-90)" text-anchor="middle">CPS (a.u.)</text>
<line x1="355.4" x2="496.6" y1="127.5" y2="127.5" stroke="#000" stroke-width="5.1"/>
<text class="tick" transform="translate(508.4 147.7) scale(0.995 1.022)" text-anchor="start">CPS</text>
<line x1="355.4" x2="496.6" y1="202.3" y2="202.3" stroke="#ff0000" stroke-width="5.1"/>
<text class="tick" transform="translate(508.4 222.5) scale(0.995 1.022)" text-anchor="start">H-O</text>
<line x1="355.4" x2="496.6" y1="277.0" y2="277.0" stroke="#00ff00" stroke-width="5.1"/>
<text class="tick" transform="translate(508.4 297.2) scale(0.995 1.022)" text-anchor="start">Ga-O</text>
<line x1="355.4" x2="496.6" y1="351.8" y2="351.8" stroke="#0000ff" stroke-width="5.1"/>
<text class="tick" transform="translate(508.4 372.0) scale(0.995 1.022)" text-anchor="start">Carbonates</text>
<line x1="355.4" x2="496.6" y1="426.5" y2="426.5" stroke="#00ffff" stroke-width="5.1"/>
<text class="tick" transform="translate(508.4 446.7) scale(0.995 1.022)" text-anchor="start">Background</text>
<text class="tick" transform="translate(1496.8 159.5) scale(0.995 1.022)" text-anchor="start">O1s</text>
</svg>
</body>
</html>
